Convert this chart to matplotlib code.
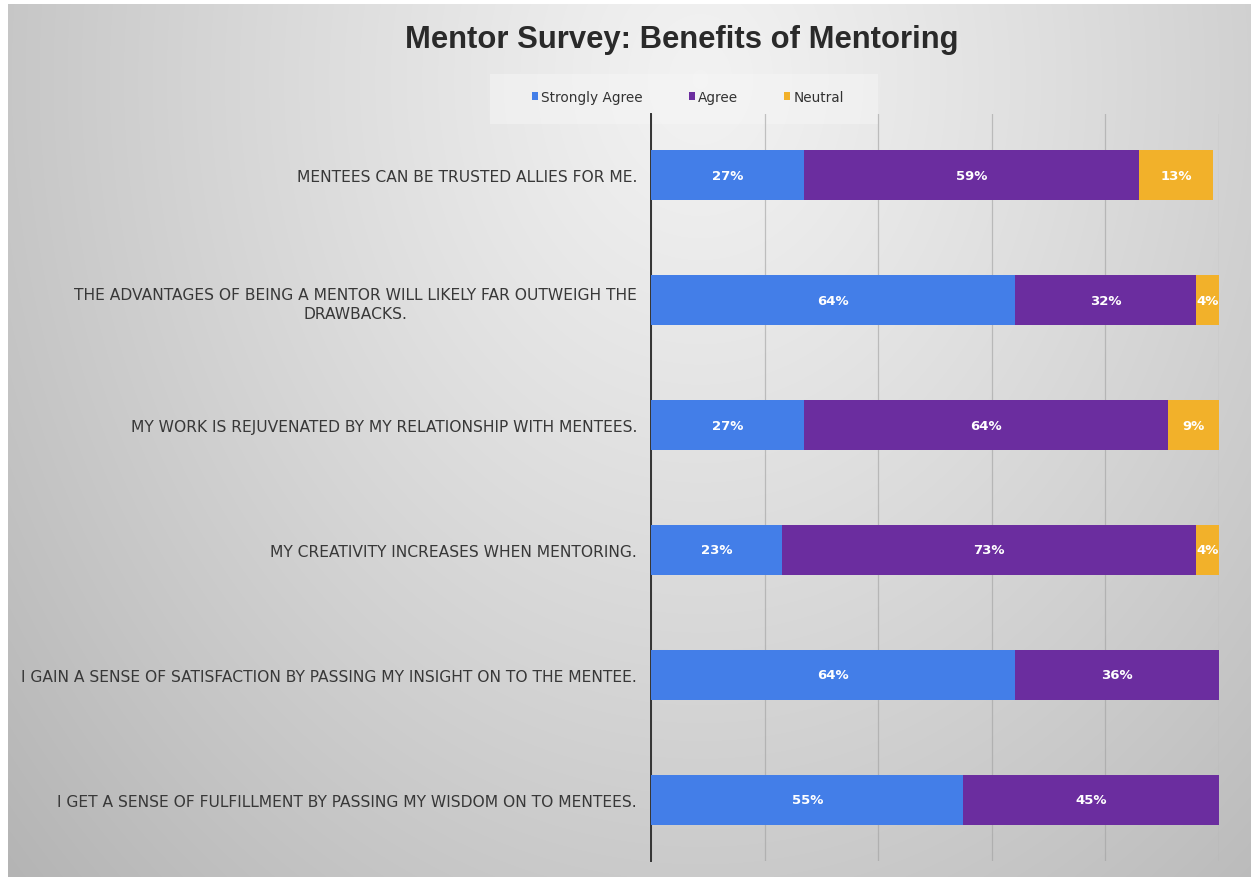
import os
import numpy as np
import matplotlib.pyplot as plt
from matplotlib import font_manager
from matplotlib.font_manager import FontProperties
from matplotlib.patches import Patch

statements = [
    "MENTEES CAN BE TRUSTED ALLIES FOR ME.",
    "THE ADVANTAGES OF BEING A MENTOR WILL LIKELY FAR OUTWEIGH THE\nDRAWBACKS.",
    "MY WORK IS REJUVENATED BY MY RELATIONSHIP WITH MENTEES.",
    "MY CREATIVITY INCREASES WHEN MENTORING.",
    "I GAIN A SENSE OF SATISFACTION BY PASSING MY INSIGHT ON TO THE MENTEE.",
    "I GET A SENSE OF FULFILLMENT BY PASSING MY WISDOM ON TO MENTEES.",
]
strongly_agree = [27, 64, 27, 23, 64, 55]
agree = [59, 32, 64, 73, 36, 45]
neutral = [13, 4, 9, 4, 0, 0]
series_names = ["Strongly Agree", "Agree", "Neutral"]
title = "Mentor Survey: Benefits of Mentoring"

colors = ["#437ee8", "#6b2d9f", "#f2b12a"]


def font_file(name, fallback_weight):
    """Return FontProperties for a specific font file, or DejaVu Sans."""
    for path in font_manager.findSystemFonts():
        if os.path.basename(path) == name:
            return FontProperties(fname=path)
    return FontProperties(family='DejaVu Sans', weight=fallback_weight)


title_font = font_file('LiberationSans-Bold.ttf', 'bold')

plt.rcParams['font.family'] = ['DejaVu Sans']

W, H = 1251, 878
fig = plt.figure(figsize=(W / 100, H / 100), dpi=100)

# soft grey backdrop, brightest near the top centre
bg = fig.add_axes([0, 0, 1, 1], zorder=0)
yy, xx = np.mgrid[0:H, 0:W]
d = np.hypot(xx - 700, (yy - 80) / 1.24)
v = 0.95 - 0.17 * (d / 690) ** 1.15
v = np.clip(v, 0.68, 1.0)
img = np.dstack([v, v, v])
img[:, :8] = 1.0
img[:5, :] = 1.0
bg.imshow(img, extent=[0, W, H, 0], aspect='auto', interpolation='bilinear')
bg.set_xlim(0, W)
bg.set_ylim(H, 0)
bg.axis('off')

# legend panel
bg.add_patch(plt.Rectangle((490, 75), 388, 50, facecolor='#f6f6f6', alpha=0.5,
                           edgecolor='none'))

ax = fig.add_axes([651 / W, 1 - 862 / H, (1219 - 651) / W, (862 - 115) / H], zorder=1)
ax.set_facecolor('none')

y = np.arange(len(statements))
left = np.zeros(len(statements))
for vals, name, c in zip([strongly_agree, agree, neutral], series_names, colors):
    vals = np.array(vals, dtype=float)
    ax.barh(y, vals, left=left, height=0.4, color=c, label=name, zorder=3)
    for yi, lv, vv in zip(y, left, vals):
        if vv > 0:
            ax.text(lv + vv / 2, yi, f"{int(vv)}%", ha='center', va='center',
                    color='white', fontsize=9.5, fontweight='bold', zorder=4)
    left += vals

ax.set_xlim(0, 100)
ax.set_ylim(len(statements) - 0.51, -0.49)
ax.set_xticks([0, 20, 40, 60, 80, 100])
ax.xaxis.grid(True, color='#a0a0a0', linewidth=0.9, alpha=0.6, zorder=0)
ax.tick_params(axis='x', length=0, labelbottom=False)
ax.set_yticks(y)
ax.set_yticklabels(statements, fontsize=11.15, color='#383838', multialignment='center',
                   linespacing=1.35)
ax.tick_params(axis='y', length=0, pad=10)
for s in ['top', 'right', 'bottom']:
    ax.spines[s].set_visible(False)
ax.spines['left'].set_color('#333333')
ax.spines['left'].set_linewidth(1.4)

title_font.set_size(22.3)
fig.text(682 / W, 1 - 40 / H, title, ha='center', va='center',
         fontproperties=title_font, color='#2a2a2a')

handles = [Patch(facecolor=c, label=n) for c, n in zip(colors, series_names)]
fig.legend(handles=handles, loc='center', bbox_to_anchor=(688 / W, 1 - 98 / H), ncol=3,
           frameon=False, fontsize=9.8, handlelength=0.45, handleheight=0.45,
           handletextpad=0.2, columnspacing=3.4, labelcolor='#333333')

fig.savefig('out.png', dpi=100)
